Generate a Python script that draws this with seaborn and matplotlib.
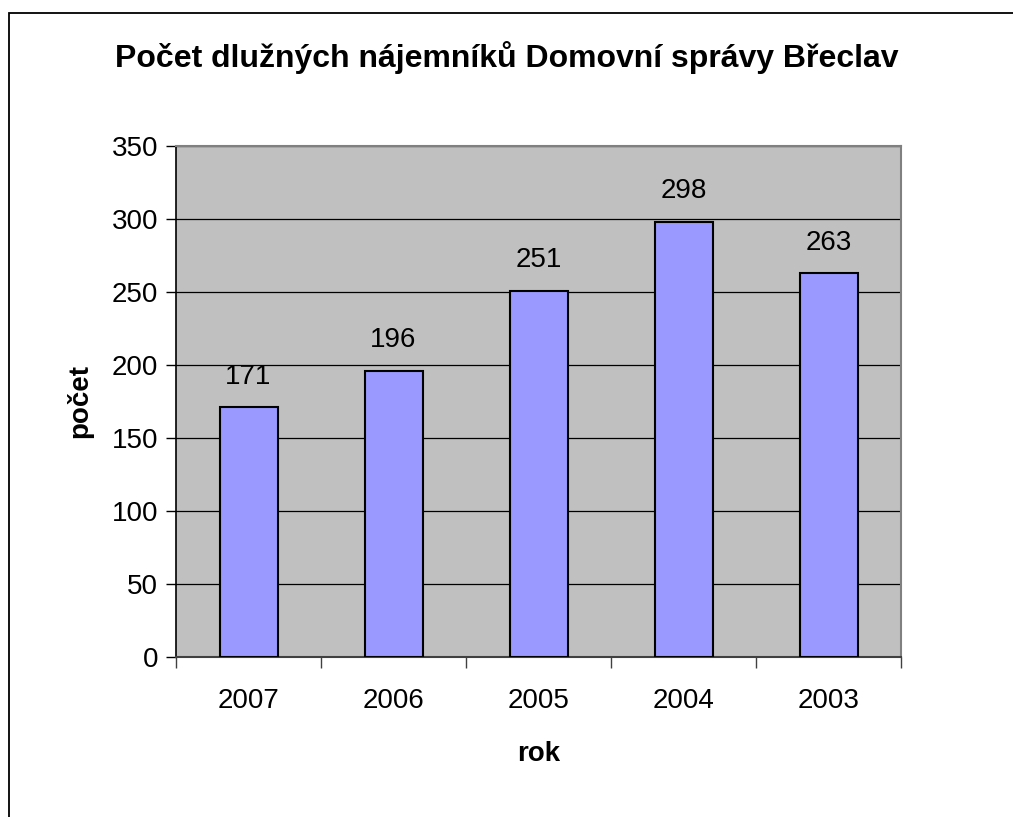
import matplotlib
matplotlib.use("Agg")
import matplotlib.pyplot as plt
import seaborn as sns
import pandas as pd
from matplotlib.patches import Rectangle

years = ["2007", "2006", "2005", "2004", "2003"]
counts = [171, 196, 251, 298, 263]
yticks = [0, 50, 100, 150, 200, 250, 300, 350]

title = "Počet dlužných nájemníků Domovní správy Břeclav"
xlabel = "rok"
ylabel = "počet"

sns.set_theme(style="white")
plt.rcParams['font.family'] = ['Liberation Sans', 'DejaVu Sans']
plt.rcParams['text.color'] = 'black'
plt.rcParams['axes.labelcolor'] = 'black'
plt.rcParams['xtick.color'] = 'black'
plt.rcParams['ytick.color'] = 'black'

df = pd.DataFrame({"rok": years, "pocet": counts})

fig = plt.figure(figsize=(10.13, 8.17), dpi=100)
fig.patch.set_facecolor("white")
ax = fig.add_axes([176/1013, 1-657/817, 725/1013, 511/817])
ax.set_facecolor("#C0C0C0")

sns.barplot(data=df, x="rok", y="pocet", ax=ax, color="#9999FF",
            width=0.4, edgecolor="black", linewidth=1.5, saturation=1, zorder=3)

ax.set_ylim(0, 350)
ax.set_xlim(-0.5, len(years) - 0.5)
ax.set_yticks(yticks)
ax.yaxis.grid(True, color="black", linewidth=0.9, zorder=1)
ax.set_axisbelow(True)
for b in ax.patches:
    b.set_zorder(3)

for i, v in enumerate(counts):
    ax.text(i, v + 12, str(v), ha="center", va="bottom", fontsize=20, color="black", zorder=4)

ax.tick_params(axis="y", which="both", direction="out", length=7, width=1, color="black",
               labelsize=20, labelcolor="black", pad=6, left=True)
ax.set_xticks(range(len(years)))
ax.set_xticklabels(years)
ax.tick_params(axis="x", which="major", length=0, labelsize=20, labelcolor="black", pad=22)
ax.set_xticks([i - 0.5 for i in range(len(years) + 1)], minor=True)
ax.tick_params(axis="x", which="minor", direction="out", length=8, width=1, color="#404040", bottom=True)

for s in ["top", "right"]:
    ax.spines[s].set_color("#808080")
    ax.spines[s].set_linewidth(1.5)
ax.spines["left"].set_color("black")
ax.spines["left"].set_linewidth(1.2)
ax.spines["bottom"].set_color("#404040")
ax.spines["bottom"].set_linewidth(1.5)

ax.set_xlabel(xlabel, fontsize=20, fontweight="bold", color="black", labelpad=20)
ax.set_ylabel(ylabel, fontsize=20, fontweight="bold", color="black", labelpad=13)

fig.text(0.5, 1-58/817, title, ha="center", va="center", fontsize=23, fontweight="bold", color="black")

fig.add_artist(Rectangle((8.5/1013, -0.1), 1.2, 1.1 - 12.5/817, transform=fig.transFigure,
                         fill=False, edgecolor="black", linewidth=1.3, clip_on=False))

fig.savefig("out.png", dpi=100)
